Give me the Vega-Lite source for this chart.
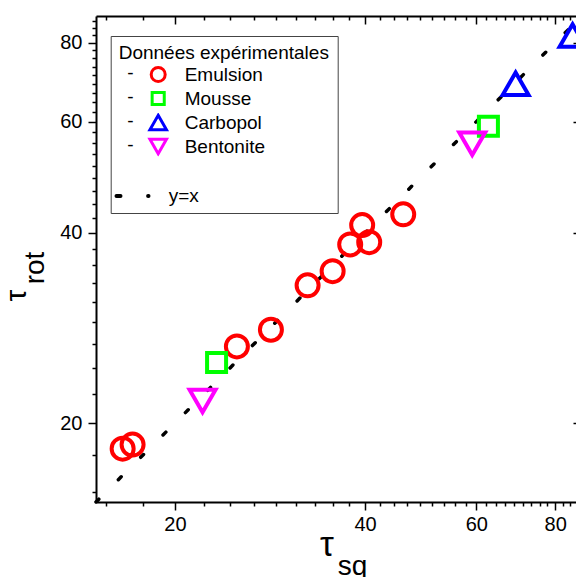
{
  "$schema": "https://vega.github.io/schema/vega-lite/v6.json",
  "width": 480,
  "height": 486,
  "autosize": "none",
  "padding": {"left": 96, "top": 16, "right": 0, "bottom": 75},
  "config": {
    "font": "Liberation Sans",
    "view": {"stroke": null},
    "point": {"size": 484},
    "axis": {"grid": false, "domainColor": "#000", "tickColor": "#000", "labelColor": "#000", "titleColor": "#000", "domainWidth": 2, "tickWidth": 1.5, "labelFontSize": 20, "titleFontWeight": "normal", "labelFont": "Liberation Sans", "titleFont": "Liberation Sans"},
    "legend": {"labelFont": "Liberation Sans", "titleFont": "Liberation Sans", "labelColor": "#000", "titleColor": "#000", "symbolBaseStrokeColor": "transparent", "symbolBaseFillColor": "transparent"}
  },
  "datasets": {
    "points": [
      {"type": "Emulsion", "tsq": 16.53, "trot": 18.22},
      {"type": "Emulsion", "tsq": 17.14, "trot": 18.49},
      {"type": "Emulsion", "tsq": 25.07, "trot": 26.45},
      {"type": "Emulsion", "tsq": 28.38, "trot": 28.11},
      {"type": "Emulsion", "tsq": 32.44, "trot": 33.04},
      {"type": "Emulsion", "tsq": 35.54, "trot": 34.80},
      {"type": "Emulsion", "tsq": 37.89, "trot": 38.36},
      {"type": "Emulsion", "tsq": 39.58, "trot": 41.16},
      {"type": "Emulsion", "tsq": 40.61, "trot": 38.68},
      {"type": "Emulsion", "tsq": 45.97, "trot": 42.80},
      {"type": "Mousse", "tsq": 23.28, "trot": 24.95},
      {"type": "Mousse", "tsq": 62.71, "trot": 59.02},
      {"type": "Carbopol", "tsq": 69.25, "trot": 68.91},
      {"type": "Carbopol", "tsq": 85.23, "trot": 82.16},
      {"type": "Bentonite", "tsq": 22.12, "trot": 21.67},
      {"type": "Bentonite", "tsq": 59.12, "trot": 55.37}
    ],
    "ref": [
      {"v": 15, "serie": "y=x"},
      {"v": 86.3, "serie": "y=x"}
    ]
  },
  "layer": [
    {
      "data": {"name": "ref"},
      "mark": {"type": "line", "color": "#000", "strokeWidth": 3.5, "strokeCap": "round"},
      "encoding": {
        "x": {"field": "v", "type": "quantitative",
          "scale": {"type": "log", "domain": [15, 86.3], "nice": false},
          "axis": {"orient": "bottom", "values": [15.556, 17.778, 22.222, 24.444, 26.667, 28.889, 31.111, 33.333, 35.556, 37.778, 42.222, 44.444, 46.667, 48.889, 51.111, 53.333, 55.556, 57.778, 62.222, 64.444, 66.667, 68.889, 71.111, 73.333, 75.556, 77.778, 82.222, 84.444],
            "labels": false, "tickSize": 4, "domain": false,
            "title": "sq", "titleFontSize": 28, "titleX": 256, "titleY": 72, "titleAlign": "center", "titleBaseline": "alphabetic", "titleAngle": 0}},
        "y": {"field": "v", "type": "quantitative",
          "scale": {"type": "log", "domain": [15, 88.2], "nice": false},
          "axis": {"orient": "left", "values": [15.556, 17.778, 22.222, 24.444, 26.667, 28.889, 31.111, 33.333, 35.556, 37.778, 42.222, 44.444, 46.667, 48.889, 51.111, 53.333, 55.556, 57.778, 62.222, 64.444, 66.667, 68.889, 71.111, 73.333, 75.556, 77.778, 82.222, 84.444, 86.667],
            "labels": false, "tickSize": 4, "domain": false,
            "title": "rot", "titleFontSize": 28, "titleAngle": 270, "titleX": -53, "titleY": 251.5, "titleAlign": "center", "titleBaseline": "alphabetic"}},
        "strokeDash": {"field": "serie", "type": "nominal",
          "scale": {"domain": ["y=x"], "range": [[4, 27.6]]},
          "legend": {"title": null, "orient": "none", "legendX": 18.5, "legendY": 162, "padding": 0,
            "labelFontSize": 19, "labelOffset": 18.2, "symbolSize": 1024, "symbolStrokeWidth": 4, "symbolStrokeColor": "#000",
            "encode": {"symbols": {"update": {"size": {"value": 1024}, "strokeCap": {"value": "round"}, "stroke": {"value": "#000"}, "strokeWidth": {"value": 4}}}}}}
      }
    },
    {
      "data": {"name": "points"},
      "mark": {"type": "point", "filled": false, "strokeWidth": 4, "opacity": 1},
      "encoding": {
        "x": {"field": "tsq", "type": "quantitative",
          "axis": {"orient": "bottom", "values": [20, 40, 60, 80], "format": "d", "tickSize": 8, "labelPadding": 4, "labelFlush": false, "labelOverlap": false,
            "title": "τ", "titleFontSize": 35, "titleX": 230.5, "titleY": 53, "titleAlign": "center", "titleBaseline": "alphabetic", "titleAngle": 0}},
        "y": {"field": "trot", "type": "quantitative",
          "axis": {"orient": "left", "values": [20, 40, 60, 80], "format": "d", "tickSize": 8, "labelPadding": 6, "labelFlush": false, "labelOverlap": false,
            "title": "τ", "titleFontSize": 30, "titleAngle": 270, "titleX": -71, "titleY": 279, "titleAlign": "center", "titleBaseline": "alphabetic"}},
        "color": {"field": "type", "type": "nominal",
          "scale": {"domain": ["Emulsion", "Mousse", "Carbopol", "Bentonite", " ", "  "], "range": ["#ff0000", "#00ff00", "#0000ff", "#ff00ff", "transparent", "transparent"]},
          "legend": {"title": "Données expérimentales", "orient": "none", "legendX": 14.7, "legendY": 20, "padding": 8, "strokeColor": "#444",
            "titleFontSize": 19, "titleFontWeight": "normal", "titlePadding": 2, "titleLimit": 400, "labelFontSize": 19, "labelLimit": 300,
            "symbolSize": 196, "symbolStrokeWidth": 3, "symbolOffset": 30, "labelOffset": 17, "rowPadding": 4, "clipHeight": 19,
            "encode": {"symbols": {"update": {"strokeWidth": {"value": 3}, "size": {"value": 196}}}}}},
        "shape": {"field": "type", "type": "nominal",
          "scale": {"domain": ["Emulsion", "Mousse", "Carbopol", "Bentonite", " ", "  "], "range": ["circle", "M-0.864,-0.864L0.864,-0.864L0.864,0.864L-0.864,0.864Z", "M0,-1.02L1.18,1.02L-1.18,1.02Z", "M0,1.02L1.18,-1.02L-1.18,-1.02Z", "circle", "circle"]},
          "legend": {"title": "Données expérimentales", "orient": "none", "legendX": 14.7, "legendY": 20, "padding": 8, "strokeColor": "#444",
            "titleFontSize": 19, "titleFontWeight": "normal", "titlePadding": 2, "titleLimit": 400, "labelFontSize": 19, "labelLimit": 300,
            "symbolSize": 196, "symbolStrokeWidth": 3, "symbolOffset": 30, "labelOffset": 17, "rowPadding": 4, "clipHeight": 19,
            "encode": {"symbols": {"update": {"strokeWidth": {"value": 3}, "size": {"value": 196}}}}}},
        "opacity": {"field": "type", "type": "nominal",
          "scale": {"range": [1, 1]},
          "legend": {"title": null, "orient": "none", "legendX": 12.2, "legendY": 47.5, "padding": 0, "labelExpr": "'-'", "labelFontSize": 19, "rowPadding": 4, "clipHeight": 19,
            "symbolOpacity": 0, "symbolStrokeColor": "transparent", "symbolFillColor": "transparent", "labelOffset": 0,
            "encode": {"symbols": {"update": {"opacity": {"value": 0}}}}}}
      }
    },
    {
      "data": {"name": "ref"},
      "mark": {"type": "line", "opacity": 0},
      "encoding": {
        "x": {"field": "v", "type": "quantitative",
          "axis": {"orient": "top", "values": [20, 40, 60, 80], "labels": false, "tickSize": -8, "domain": true, "title": null}},
        "y": {"field": "v", "type": "quantitative",
          "axis": {"orient": "right", "values": [20, 40, 60, 80], "labels": false, "tickSize": -3, "domain": false, "title": null}}
      }
    },
    {
      "data": {"name": "ref"},
      "mark": {"type": "line", "opacity": 0},
      "encoding": {
        "x": {"field": "v", "type": "quantitative",
          "axis": {"orient": "top", "values": [15.556, 17.778, 22.222, 24.444, 26.667, 28.889, 31.111, 33.333, 35.556, 37.778, 42.222, 44.444, 46.667, 48.889, 51.111, 53.333, 55.556, 57.778, 62.222, 64.444, 66.667, 68.889, 71.111, 73.333, 75.556, 77.778, 82.222, 84.444],
            "labels": false, "tickSize": -4, "domain": false, "title": null}},
        "y": {"field": "v", "type": "quantitative", "axis": null}
      }
    }
  ],
  "resolve": {"axis": {"x": "independent", "y": "independent"}}
}
